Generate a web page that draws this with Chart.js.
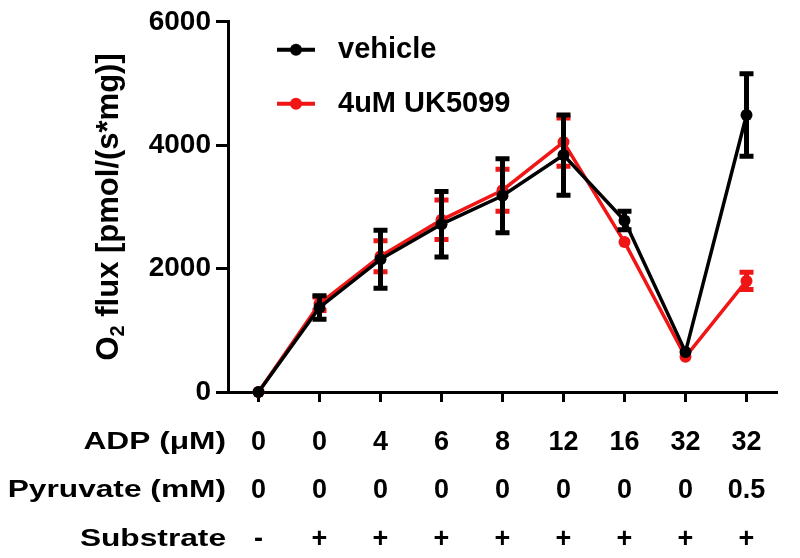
<!DOCTYPE html>
<html lang="en">
<head>
  <meta charset="UTF-8" />
  <title>O2 flux vs ADP</title>
  <script src="https://cdn.jsdelivr.net/npm/chart.js"></script>
  <style>
    html, body { margin: 0; padding: 0; background: #fff; }
  </style>
</head>
<body>
  <canvas id="flux" width="800" height="558"></canvas>

  <script>
    // rows under the x axis
    const adp = ['0', '0', '4', '6', '8', '12', '16', '32', '32'];
    const pyruvate = ['0', '0', '0', '0', '0', '0', '0', '0', '0.5'];
    const substrate = ['-', '+', '+', '+', '+', '+', '+', '+', '+'];
    const rowTitles = ['ADP (\u03bcM)', 'Pyruvate (mM)', 'Substrate'];

    // O2 flux, mean and error
    const vehicle = [0, 1370, 2150, 2720, 3180, 3840, 2780, 650, 4490];
    const vehicleErr = [0, 190, 470, 530, 600, 650, 150, 0, 670];
    const uk5099 = [0, 1430, 2200, 2790, 3270, 4050, 2430, 570, 1800];
    const uk5099Err = [0, 110, 250, 320, 340, 390, 0, 0, 140];

    const yTicks = [0, 2000, 4000, 6000];

    const FONT = '"Liberation Sans", Arial, sans-serif';
    const RED = 'rgb(240, 22, 22)';

    const labels = adp.map((a, i) => [a, pyruvate[i], substrate[i]]);

    // draws the error bars right after each dataset, so black sits over red
    const errorBars = {
      id: 'errorBars',
      afterDatasetDraw(chart, args) {
        const ds = chart.data.datasets[args.index];
        if (!ds.errors) return;
        const y = chart.scales.y;
        const ctx = chart.ctx;
        ctx.save();
        ctx.strokeStyle = ds.borderColor;
        ctx.lineWidth = 5;
        args.meta.data.forEach((pt, i) => {
          const e = ds.errors[i];
          if (!e) return;
          const top = y.getPixelForValue(ds.data[i] + e);
          const bot = y.getPixelForValue(ds.data[i] - e);
          ctx.beginPath();
          ctx.moveTo(pt.x, top); ctx.lineTo(pt.x, bot);
          ctx.moveTo(pt.x - 7, top); ctx.lineTo(pt.x + 7, top);
          ctx.moveTo(pt.x - 7, bot); ctx.lineTo(pt.x + 7, bot);
          ctx.stroke();
        });
        ctx.restore();
      }
    };

    // y title with subscript, row titles and the legend
    const extras = {
      id: 'extras',
      afterDraw(chart) {
        const ctx = chart.ctx;
        const area = chart.chartArea;
        const xs = chart.scales.x;
        ctx.save();
        ctx.fillStyle = '#000';

        // row titles (text in the original is stretched wide)
        ctx.font = 'bold 24px ' + FONT;
        ctx.textAlign = 'right';
        ctx.textBaseline = 'middle';
        rowTitles.forEach((t, i) => {
          ctx.save();
          ctx.translate(226, xs.top + 50 + i * 48.5);
          ctx.scale(1.32, 1);
          ctx.fillText(t, 0, 0);
          ctx.restore();
        });

        // y axis title
        ctx.save();
        ctx.translate(106, (area.top + area.bottom) / 2);
        ctx.rotate(-Math.PI / 2);
        ctx.textAlign = 'left';
        ctx.textBaseline = 'alphabetic';
        const big = 'bold 31px ' + FONT;
        const small = 'bold 20px ' + FONT;
        const rest = ' flux [pmol/(s*mg)]';
        ctx.font = big;
        const w1 = ctx.measureText('O').width;
        const w3 = ctx.measureText(rest).width;
        ctx.font = small;
        const w2 = ctx.measureText('2').width;
        const x0 = -(w1 + w2 + w3) / 2;
        ctx.font = big;
        ctx.fillText('O', x0, 12);
        ctx.font = small;
        ctx.fillText('2', x0 + w1, 18);
        ctx.font = big;
        ctx.fillText(rest, x0 + w1 + w2, 12);
        ctx.restore();

        // legend
        ctx.font = 'bold 29px ' + FONT;
        ctx.textAlign = 'left';
        ctx.textBaseline = 'middle';
        chart.data.datasets.forEach((ds, i) => {
          const ly = area.top + 28 + i * 54;
          const lx = area.left + 49;
          ctx.strokeStyle = ds.borderColor;
          ctx.lineWidth = 4;
          ctx.beginPath();
          ctx.moveTo(lx, ly); ctx.lineTo(lx + 38, ly);
          ctx.stroke();
          ctx.fillStyle = ds.borderColor;
          ctx.beginPath();
          ctx.arc(lx + 19, ly, 6, 0, Math.PI * 2);
          ctx.fill();
          ctx.fillStyle = '#000';
          ctx.fillText(ds.label, lx + 61, ly);
        });
        ctx.restore();
      }
    };

    new Chart(document.getElementById('flux'), {
      type: 'line',
      data: {
        labels: labels,
        datasets: [
          {
            label: 'vehicle',
            data: vehicle,
            errors: vehicleErr,
            borderColor: '#000',
            backgroundColor: '#000',
            pointBackgroundColor: '#000',
            borderWidth: 3.5,
            pointRadius: 6,
            pointBorderWidth: 0,
            tension: 0,
            clip: false
          },
          {
            label: '4uM UK5099',
            data: uk5099,
            errors: uk5099Err,
            borderColor: RED,
            backgroundColor: RED,
            pointBackgroundColor: RED,
            borderWidth: 3.5,
            pointRadius: 6,
            pointBorderWidth: 0,
            tension: 0,
            clip: false
          }
        ]
      },
      options: {
        responsive: false,
        animation: false,
        devicePixelRatio: 1,
        layout: { padding: { top: 15, right: 23, left: 0, bottom: 0 } },
        plugins: {
          legend: { display: false },
          tooltip: { enabled: false }
        },
        scales: {
          x: {
            type: 'category',
            offset: true,
            grid: {
              display: true,
              drawOnChartArea: false,
              drawTicks: true,
              offset: false,
              tickLength: 10,
              tickWidth: 3,
              tickColor: '#000'
            },
            border: { display: true, color: '#000', width: 3 },
            ticks: {
              color: '#000',
              font: { family: FONT, size: 27, weight: 'bold', lineHeight: 1.8 },
              padding: 16,
              maxRotation: 0,
              autoSkip: false
            },
            afterFit(scale) { scale.height = 166; }
          },
          y: {
            min: 0,
            max: 6000,
            afterBuildTicks(scale) { scale.ticks = yTicks.map(v => ({ value: v })); },
            grid: {
              display: true,
              drawOnChartArea: false,
              drawTicks: true,
              tickLength: 12,
              tickWidth: 3,
              tickColor: '#000'
            },
            border: { display: true, color: '#000', width: 3 },
            ticks: {
              color: '#000',
              font: { family: FONT, size: 28, weight: 'bold' },
              padding: 5,
              callback: v => String(v)
            },
            afterFit(scale) { scale.width = 228; }
          }
        }
      },
      plugins: [errorBars, extras]
    });
  </script>
</body>
</html>
